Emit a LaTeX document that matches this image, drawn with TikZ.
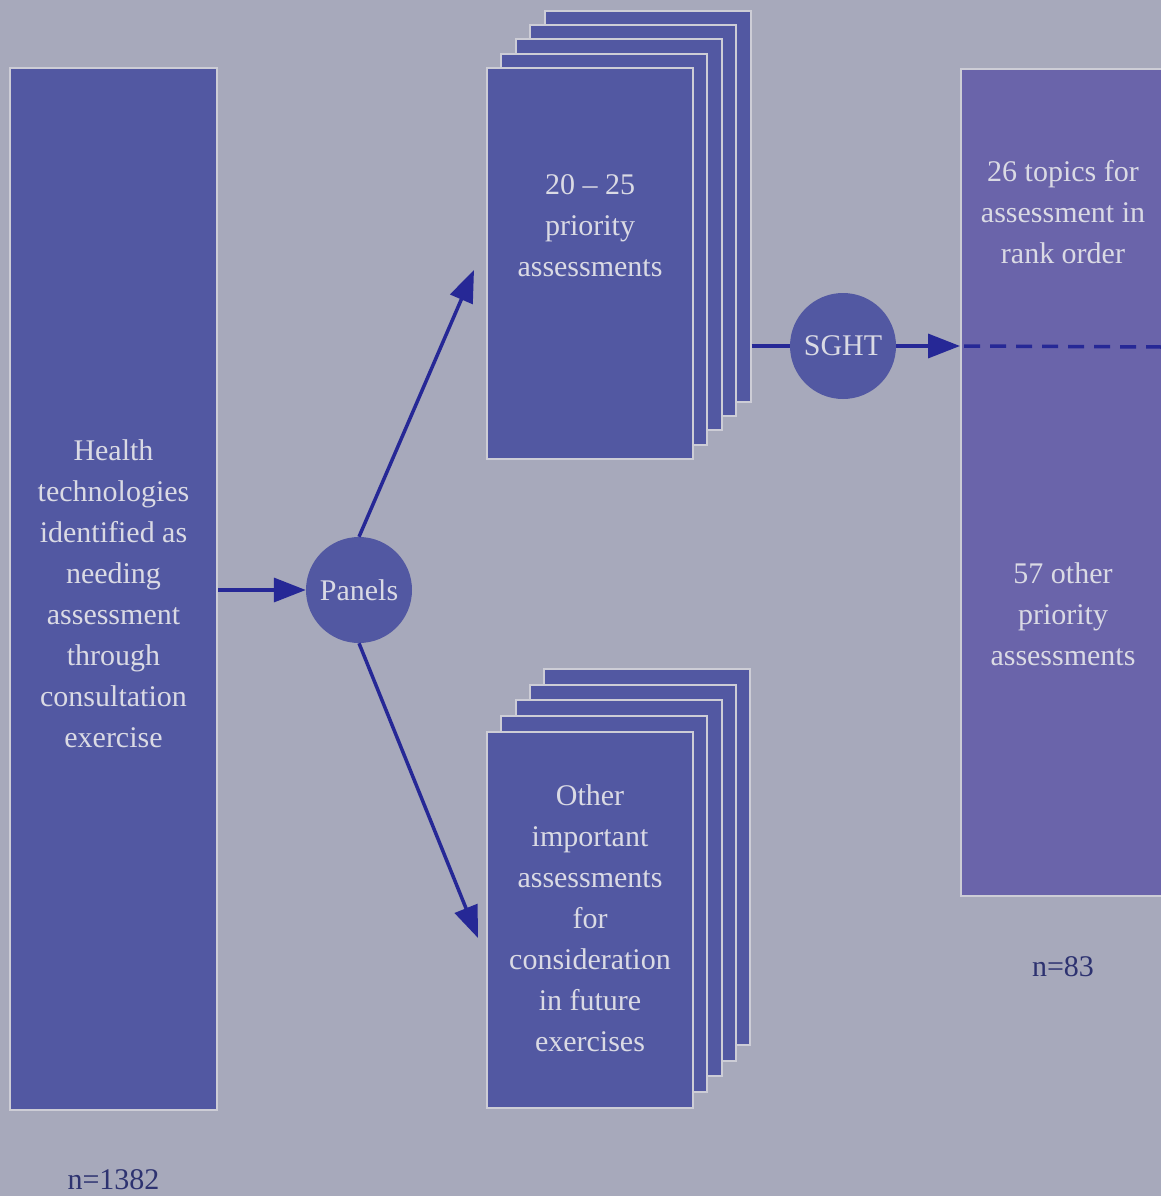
\documentclass[tikz,border=0pt]{standalone}
\usepackage{fontspec}
\setmainfont{Liberation Serif}
\usetikzlibrary{arrows.meta}
\definecolor{bg}{RGB}{167,169,187}
\definecolor{boxblue}{RGB}{82,88,162}
\definecolor{boxpurple}{RGB}{106,100,170}
\definecolor{edge}{RGB}{205,205,214}
\definecolor{txt}{RGB}{218,218,228}
\definecolor{arr}{RGB}{38,40,150}
\definecolor{ntxt}{RGB}{45,50,112}
\begin{document}
\begin{tikzpicture}[x=1pt,y=-1pt,
  sheet/.style={draw=edge, line width=2pt, fill=boxblue, rectangle, inner sep=0pt, minimum width=206pt},
  bigbox/.style={draw=edge, line width=2pt, fill=boxblue, rectangle, inner sep=0pt},
  disc/.style={circle, fill=boxblue, inner sep=0pt, minimum size=106pt, text=txt, font=\fontsize{30}{41}\selectfont},
  label/.style={align=center, text=txt, inner sep=0pt, font=\fontsize{30}{41}\selectfont},
  count/.style={text=ntxt, inner sep=0pt, font=\fontsize{30}{41}\selectfont},
  flow/.style={draw=arr, line width=3.5pt, -{Triangle[length=32pt,width=24pt]}},
  plain/.style={draw=arr, line width=3.5pt},
  dashline/.style={draw=arr, line width=3.5pt, dash pattern=on 16pt off 10pt}
]
\useasboundingbox (0,0) rectangle (1161,1196);
\fill[bg] (0,0) rectangle (1161,1196);
\begin{scope}
\clip (0,0) rectangle (1161,1196);

% left box
\node[bigbox, minimum width=207pt, minimum height=1042pt] (left) at (113.5,589) {};
\node[label] (lefttext) at (113.5,594) {Health\\technologies\\identified as\\needing\\assessment\\through\\consultation\\exercise};
\node[count] (n1382) at (113.5,1180) {n=1382};

% top stack
\foreach \k in {4,3,2,1} {
  \node[sheet, minimum height=391pt] (top\k) at ({590+14.4*\k},{263.5-14.3*\k}) {};
}
\node[sheet, minimum height=391pt] (topfront) at (590,263.5) {};
\node[label] (toptext) at (590,226) {20 -- 25\\priority\\assessments};

% bottom stack
\foreach \k in {4,3,2,1} {
  \node[sheet, minimum height=376pt] (bot\k) at ({590+14.3*\k},{920-15.8*\k}) {};
}
\node[sheet, minimum height=376pt] (botfront) at (590,920) {};
\node[label] (bottext) at (590,918) {Other\\important\\assessments\\for\\consideration\\in future\\exercises};

% right box
\node[bigbox, fill=boxpurple, anchor=north west, minimum width=230pt, minimum height=827pt] (right) at (960,68) {};
\node[label] (righttop) at (1063,212) {26 topics for\\assessment in\\rank order};
\node[label] (rightmid) at (1063,614) {57 other\\priority\\assessments};
\node[count] (n83) at (1063,967) {n=83};

% circles
\node[disc] (panels) at (359,590) {Panels};
\node[disc] (sght) at (843,346) {SGHT};

% connectors
\coordinate (toptip) at (474,270);
\coordinate (bottip) at (478,938);
\coordinate (dashend) at (1161,347);
\draw[flow] (left.east |- panels) -- (panels.west);
\draw[flow] (panels.north) -- (toptip);
\draw[flow] (panels.south) -- (bottip);
\draw[plain] (top4.east |- sght) -- (sght.west);
\draw[flow] (sght.east) -- (right.west |- sght);
\draw[dashline] ([xshift=4pt]right.west |- sght) -- (dashend);
\end{scope}
\end{tikzpicture}
\end{document}
